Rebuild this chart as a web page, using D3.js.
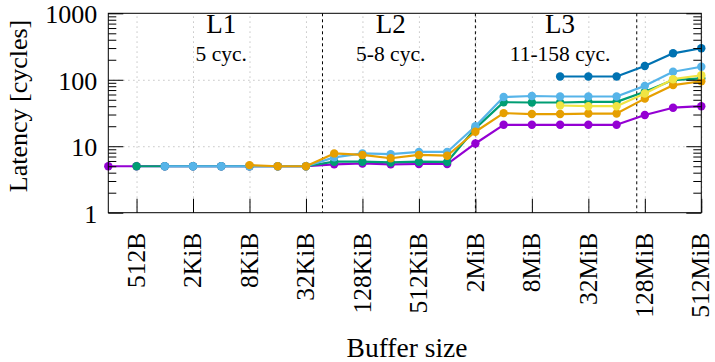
<!DOCTYPE html>
<html>
<head>
<meta charset="utf-8">
<script src="https://cdn.jsdelivr.net/npm/d3@7"></script>
<style>
    body { margin: 0; background: #fff; }
</style>
</head>
<body>
<div id="chart"></div>
<script>
// buffer sizes in bytes, one point per power of two
const sizes = [256, 512, 1024, 2048, 4096, 8192, 16384, 32768, 65536, 131072, 262144,
    524288, 1048576, 2097152, 4194304, 8388608, 16777216, 33554432, 67108864,
    134217728, 268435456, 536870912];

// latency in cycles (null = not measured)
const purple = [5, 5, 5, 5, 5, 5, 5, 5, 5.35, 5.5, 5.35, 5.4, 5.4, 11, 21, 21, 21, 21, 21, 29.5, 38, 40];
const green = [null, 5, 5, 5, 5, 5, 5, 5, 5.85, 5.85, 5.7, 5.85, 5.8, 18.6, 46, 45.5, 45.5, 46.5, 46.5, 66, 99, 105];
const skyblue = [null, null, 5, 5, 5, 5, 5, 5, 6.8, 7.8, 7.6, 8.2, 8.2, 20, 55, 57, 56, 56, 56, 81, 132, 157];
const orange = [null, null, null, null, null, 5.2, 5, 5, 7.8, 7.4, 6.6, 7.4, 7.2, 16.5, 31.5, 30.5, 30.5, 31, 31, 52, 83, 95];
const yellow = [null, null, null, null, null, null, null, null, null, null, null, null, null, null, null, null, 41, 40, 40, 62, 102, 117];
const blue = [null, null, null, null, null, null, null, null, null, null, null, null, null, null, null, null, 112, 112, 112, 161, 250, 298];

const seriesList = [purple, green, skyblue, orange, yellow, blue];
const seriesColors = ["#9400d3", "#009e73", "#56b4e9", "#e69f00", "#f0e442", "#0072b2"];

const xTickValues = [512, 2048, 8192, 32768, 131072, 524288, 2097152, 8388608, 33554432, 134217728, 536870912];
const xTickLabels = ["512B", "2KiB", "8KiB", "32KiB", "128KiB", "512KiB", "2MiB", "8MiB", "32MiB", "128MiB", "512MiB"];
const yTickValues = [1, 10, 100, 1000];

// cache level boundaries (48KiB, 2MiB, 105MiB) and labels
const cacheBounds = [49152, 2097152, 110100480];
const levelNames = ["L1", "L2", "L3"];
const levelLatency = ["5 cyc.", "5-8 cyc.", "11-158 cyc."];
const levelLabelAt = [4096, 262144, 16777216];

const FONT = "'Liberation Serif'";

const W = 715, H = 362;
const margin = { top: 13.3, right: 13.7, bottom: 149.3, left: 108.3 };
const width = W - margin.left - margin.right;
const height = H - margin.top - margin.bottom;

const svg = d3.select("#chart").append("svg")
    .attr("width", W)
    .attr("height", H);
svg.append("rect").attr("width", W).attr("height", H).attr("fill", "#fff");

const g = svg.append("g")
    .attr("transform", "translate(" + margin.left + "," + margin.top + ")");

const x = d3.scaleLog().base(2).domain([256, 536870912]).range([0, width]);
const y = d3.scaleLog().base(10).domain([1, 1000]).range([height, 0]);

// minor y ticks 2..9 of each decade
let yMinor = [];
[1, 10, 100].forEach(function(dec) {
    for (let m = 2; m <= 9; m++) yMinor.push(dec * m);
});

// grid
const gridStyle = function(sel) {
    sel.select(".domain").remove();
    sel.selectAll(".tick line")
        .attr("stroke", "#b4b4b4")
        .attr("stroke-width", 1)
        .attr("stroke-dasharray", "1.2,3.8");
};
g.append("g")
    .attr("transform", "translate(0," + height + ")")
    .call(d3.axisBottom(x).tickValues(xTickValues).tickSize(-height).tickFormat(""))
    .call(gridStyle);
g.append("g")
    .call(d3.axisLeft(y).tickValues([10, 100]).tickSize(-width).tickFormat(""))
    .call(gridStyle);

// cache boundaries
g.selectAll(".bound")
    .data(cacheBounds)
    .enter().append("line")
    .attr("class", "bound")
    .attr("x1", d => x(d)).attr("x2", d => x(d))
    .attr("y1", 0).attr("y2", height)
    .attr("stroke", "#000")
    .attr("stroke-width", 1)
    .attr("stroke-dasharray", "3,3");

// level labels
g.selectAll(".lvl")
    .data(levelNames)
    .enter().append("text")
    .attr("class", "lvl")
    .attr("x", (d, i) => x(levelLabelAt[i]))
    .attr("y", 33 - margin.top)
    .attr("text-anchor", "middle")
    .style("font-family", FONT)
    .style("font-size", "27px")
    .text(d => d);
g.selectAll(".lat")
    .data(levelLatency)
    .enter().append("text")
    .attr("class", "lat")
    .attr("x", (d, i) => x(levelLabelAt[i]))
    .attr("y", 61 - margin.top)
    .attr("text-anchor", "middle")
    .style("font-family", FONT)
    .style("font-size", "21.5px")
    .text(d => d);

// series: line then markers, one series after another
seriesList.forEach(function(vals, si) {
    let pts = vals.map((v, i) => ({ size: sizes[i], v: v }));
    let sg = g.append("g");
    sg.append("path")
        .datum(pts)
        .attr("fill", "none")
        .attr("stroke", seriesColors[si])
        .attr("stroke-width", 2.2)
        .attr("stroke-linejoin", "round")
        .attr("d", d3.line().defined(d => d.v !== null).x(d => x(d.size)).y(d => y(d.v)));
    sg.selectAll("circle")
        .data(pts.filter(d => d.v !== null))
        .enter().append("circle")
        .attr("cx", d => x(d.size))
        .attr("cy", d => y(d.v))
        .attr("r", 4.2)
        .attr("fill", seriesColors[si]);
});

// axes (ticks inward)
const tickStyle = function(sel) {
    sel.select(".domain").remove();
    sel.selectAll(".tick line").attr("stroke", "#000").attr("stroke-width", 1);
};

const xAxis = g.append("g")
    .attr("transform", "translate(0," + height + ")")
    .call(d3.axisBottom(x).tickValues(xTickValues).tickSize(-14).tickFormat((d, i) => xTickLabels[i]))
    .call(tickStyle);
xAxis.selectAll("text")
    .attr("x", 0).attr("y", 0).attr("dy", "0.3em")
    .attr("text-anchor", "end")
    .attr("transform", "translate(0,20) rotate(-90)")
    .style("font-family", FONT)
    .style("font-size", "25.5px");

const yAxis = g.append("g")
    .call(d3.axisLeft(y).tickValues(yTickValues).tickSize(-15).tickPadding(11).tickFormat(d3.format("d")))
    .call(tickStyle);
yAxis.selectAll("text")
    .attr("dy", "0.36em")
    .style("font-family", FONT)
    .style("font-size", "26px");
g.append("g")
    .call(d3.axisLeft(y).tickValues(yMinor).tickSize(-8).tickFormat(""))
    .call(tickStyle);

g.append("g")
    .attr("transform", "translate(" + width + ",0)")
    .call(d3.axisRight(y).tickValues(yTickValues).tickSize(-15).tickFormat(""))
    .call(tickStyle);
g.append("g")
    .attr("transform", "translate(" + width + ",0)")
    .call(d3.axisRight(y).tickValues(yMinor).tickSize(-8).tickFormat(""))
    .call(tickStyle);

// frame
g.append("rect")
    .attr("width", width).attr("height", height)
    .attr("fill", "none")
    .attr("stroke", "#000")
    .attr("stroke-width", 1);

// axis titles
svg.append("text")
    .attr("x", 407)
    .attr("y", 357)
    .attr("text-anchor", "middle")
    .style("font-family", FONT)
    .style("font-size", "27.5px")
    .text("Buffer size");
svg.append("text")
    .attr("transform", "translate(27,106) rotate(-90)")
    .attr("text-anchor", "middle")
    .style("font-family", FONT)
    .style("font-size", "26px")
    .text("Latency [cycles]");
</script>
</body>
</html>
